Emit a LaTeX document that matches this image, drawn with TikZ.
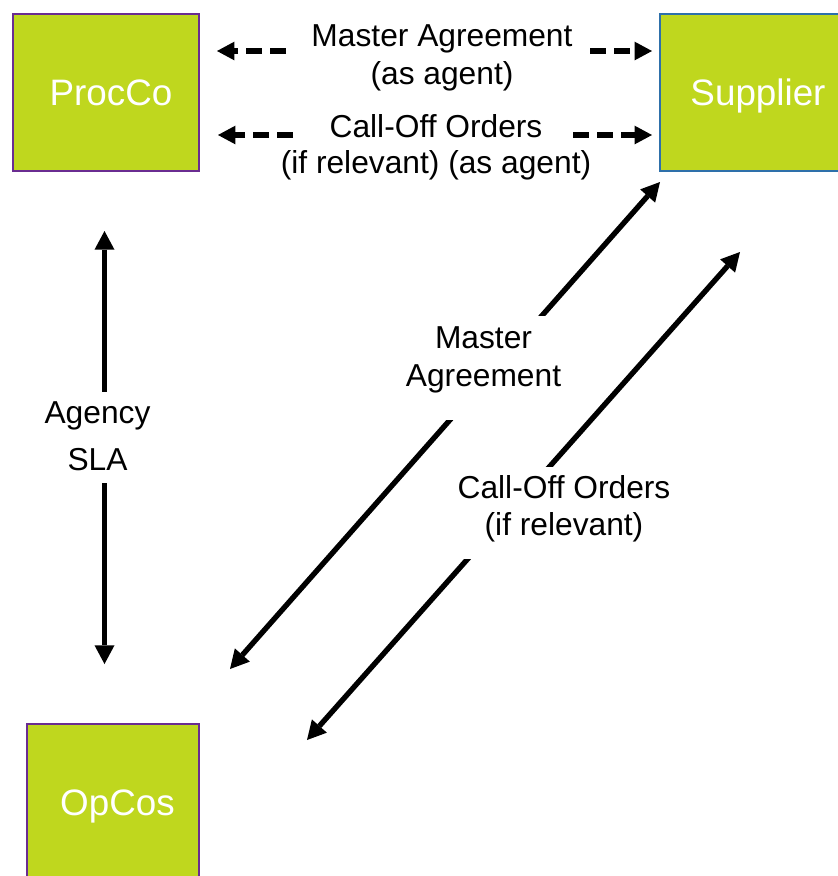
\documentclass[tikz,border=0pt]{standalone}
\usepackage{fontspec}
\setmainfont{Liberation Sans}
\usetikzlibrary{arrows.meta}

% one screen pixel
\newlength\px
\setlength\px{0.75pt}
% invisible struts that fix a label's top and bottom edge
\newcommand\upstrut[1]{\rule{0pt}{#1\px}}
\newcommand\downstrut[1]{\rule[-#1\px]{0pt}{#1\px}}

\definecolor{boxgreen}{RGB}{191,215,30}
\definecolor{purpleedge}{RGB}{106,44,145}
\definecolor{blueedge}{RGB}{46,112,170}

\begin{document}
\begin{tikzpicture}[x=0.75pt,y=-0.75pt,
  party/.style={rectangle, fill=boxgreen, line width=1.3pt,
    minimum width=186\px, minimum height=157\px, inner sep=0,
    text height=19.8pt, text depth=0pt,
    text=white, font=\fontsize{27.6}{33}\selectfont},
  solidlink/.style={line width=4pt,
    {Triangle[length=14pt,width=15pt,line width=0pt]}-{Triangle[length=14pt,width=15pt,line width=0pt]}},
  dashlink/.style={line width=5pt, dash pattern=on 12pt off 6pt,
    -{Triangle[length=13pt,width=14pt,line width=0pt]}},
  lbl/.style={inner sep=0, outer sep=0, align=center, anchor=north},
  masklbl/.style={lbl, fill=white},
]
\useasboundingbox (0,0) rectangle (838,876);
\clip (0,0) rectangle (838,876);

% parties (text sits a little right of centre)
\node[party, draw=purpleedge] (procco) at (106,92.5) {\hspace*{10\px}ProcCo};
\node[party, draw=blueedge] (supplier) at (753,92.5) {\hspace*{10\px}Supplier};
\node[party, draw=purpleedge, minimum width=172\px] (opcos) at (113,802.5) {\hspace*{9\px}OpCos};

% end points of the links
\coordinate (maL) at (217,51);   \coordinate (maLs) at (286,51);
\coordinate (maRs) at (590,51);  \coordinate (maR) at (652,51);
\coordinate (coL) at (218,135);  \coordinate (coLs) at (293,135);
\coordinate (coRs) at (573,135); \coordinate (coR) at (652,135);
\coordinate (slaTop) at (104.5,231); \coordinate (slaBot) at (104.5,664);
\coordinate (mdTop) at (660,182); \coordinate (mdBot) at (230,669);
\coordinate (cdTop) at (740,252); \coordinate (cdBot) at (307,740);

% agent links between ProcCo and the supplier
\draw[dashlink] (maLs) -- (maL);
\draw[dashlink] (maRs) -- (maR);
\draw[dashlink] (coLs) -- (coL);
\draw[dashlink] (coRs) -- (coR);

% direct links
\draw[solidlink] (slaTop) -- (slaBot);
\draw[solidlink] (mdBot) -- (mdTop);
\draw[solidlink] (cdBot) -- (cdTop);

% labels
\node[lbl, font=\fontsize{23.8}{28.5}\selectfont] (lblMaster) at (442,22)
  {\upstrut{24}Master Agreement\\(as agent)};
\node[lbl, font=\fontsize{23.8}{27}\selectfont] (lblCallOff) at (436,113)
  {\upstrut{24}Call-Off Orders\\(if relevant) (as agent)};
\node[masklbl, font=\fontsize{23.8}{35.25}\selectfont] (lblSla) at (97.5,392)
  {\upstrut{31}Agency\\SLA\downstrut{13}};
\node[masklbl, font=\fontsize{23.8}{28.5}\selectfont] (lblMd) at (483.5,316)
  {\upstrut{32}Master\\Agreement\downstrut{34}};
\node[masklbl, font=\fontsize{23.8}{27.75}\selectfont] (lblCd) at (564,467)
  {\upstrut{31}Call-Off Orders\\(if relevant)\downstrut{24}};
\end{tikzpicture}
\end{document}
